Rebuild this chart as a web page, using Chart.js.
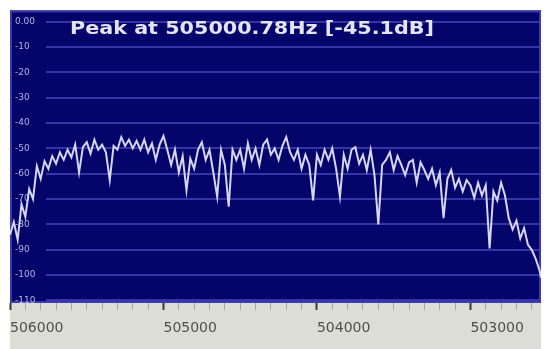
<!DOCTYPE html>
<html>
<head>
<meta charset="utf-8">
<script src="https://cdn.jsdelivr.net/npm/chart.js@4/dist/chart.umd.min.js"></script>
<style>
  html, body { margin: 0; padding: 0; background: #ffffff; }
  #wrap { position: absolute; left: 0; top: 0; width: 547px; height: 349px; }
</style>
</head>
<body>
<div id="wrap"><canvas id="spectrum" width="547" height="349"></canvas></div>
<script>
// Spectrum trace (Hz, dB)
const freqs = [
  506000, 505975, 505950, 505925, 505900, 505875, 505850, 505825, 505800, 505775,
  505750, 505725, 505700, 505675, 505650, 505625, 505600, 505575, 505550, 505525,
  505500, 505475, 505450, 505425, 505400, 505375, 505350, 505325, 505300, 505275,
  505250, 505225, 505200, 505175, 505150, 505125, 505100, 505075, 505050, 505025,
  505000, 504975, 504950, 504925, 504900, 504875, 504850, 504825, 504800, 504775,
  504750, 504725, 504700, 504675, 504650, 504625, 504600, 504575, 504550, 504525,
  504500, 504475, 504450, 504425, 504400, 504375, 504350, 504325, 504300, 504275,
  504250, 504225, 504200, 504175, 504150, 504125, 504100, 504075, 504050, 504025,
  504000, 503975, 503950, 503925, 503900, 503875, 503850, 503825, 503800, 503775,
  503750, 503725, 503700, 503675, 503650, 503625, 503600, 503575, 503550, 503525,
  503500, 503475, 503450, 503425, 503400, 503375, 503350, 503325, 503300, 503275,
  503250, 503225, 503200, 503175, 503150, 503125, 503100, 503075, 503050, 503025,
  503000, 502975, 502950, 502925, 502900, 502875, 502850, 502825, 502800, 502775,
  502750, 502725, 502700, 502675, 502650, 502625, 502600, 502575, 502550, 502540
];
const levels = [
  -84, -79, -86, -72, -77, -66, -70, -57, -62, -55,
  -58, -53, -56, -51.5, -54.5, -50.5, -53.5, -48.5, -59.5, -49.5,
  -47.5, -52, -46.5, -50.5, -48.5, -51.5, -62.5, -49, -50.5, -45.5,
  -49, -46.5, -50, -47, -50.5, -46.5, -51.5, -48, -54.5, -48.5,
  -45.1, -50.5, -56.5, -50.5, -59.5, -53, -66.5, -54, -58, -50.5,
  -47.5, -54.5, -50.5, -59.5, -69, -50.5, -56.5, -73, -50.5, -54.5,
  -50.5, -58, -48, -54.5, -50, -56.5, -48.5, -46.5, -52.5, -50,
  -54.5, -49, -45.5, -51.5, -54.5, -50.5, -58, -52.5, -56.5, -70.5,
  -52.5, -56.5, -50.5, -54.5, -50, -58, -69, -52.5, -58, -50.5,
  -49.5, -56, -52.5, -58.5, -50.5, -60.5, -80, -56.5, -54.5, -51.5,
  -58.5, -53, -56.5, -60.5, -55.5, -54.5, -63.5, -55.5, -58.5, -62,
  -58, -64.5, -59.5, -77.5, -62, -58.5, -65.5, -62, -67, -62.5,
  -64.5, -69.5, -63.5, -68.5, -64.5, -89.5, -67, -70.5, -63.5, -68.5,
  -77.5, -82, -78.5, -85.5, -81.5, -88, -90, -93.5, -98, -101
];

const peakText = "Peak at 505000.78Hz [-45.1dB]";
const freqMin = 502540;
const freqMax = 506000;
const dbMin = -111;
const dbMax = 4.5;

const NAVY = "#04046a";
const GRID = "#3434a6";
const TRACE = "#d6d6f4";
const PANEL = "#dcddd6";

// Background, panel and grid lines (grid starts right of the level labels)
const scopePlugin = {
  id: "scope",
  beforeDraw(chart) {
    const { ctx, chartArea: a } = chart;
    ctx.save();
    ctx.fillStyle = NAVY;
    ctx.fillRect(a.left, a.top, a.right - a.left, a.bottom - a.top);
    ctx.fillStyle = PANEL;
    ctx.fillRect(a.left, a.bottom, a.right - a.left, chart.height - a.bottom);
    ctx.strokeStyle = "#3c3cae";
    ctx.lineWidth = 2;
    ctx.strokeRect(a.left + 1, a.top + 1, a.right - a.left - 2, a.bottom - a.top - 2);
    ctx.restore();
  },
  beforeDatasetsDraw(chart) {
    const { ctx, chartArea: a, scales } = chart;
    const y = scales.y;
    ctx.save();
    ctx.strokeStyle = GRID;
    ctx.lineWidth = 2;
    y.ticks.forEach((t) => {
      const py = Math.round(y.getPixelForValue(t.value));
      ctx.beginPath();
      ctx.moveTo(a.left + 36, py);
      ctx.lineTo(a.right - 2, py);
      ctx.stroke();
    });
    ctx.restore();
  },
  afterDraw(chart) {
    const { ctx, chartArea: a } = chart;
    ctx.save();
    ctx.font = "bold 17px 'DejaVu Sans'";
    ctx.fillStyle = "#e4e4f4";
    ctx.textBaseline = "middle";
    const w = ctx.measureText(peakText).width;
    ctx.translate(a.left + 60, a.top + 19);
    ctx.scale(364 / w, 1);
    ctx.fillText(peakText, 0, 0);
    ctx.restore();
  },
};

new Chart(document.getElementById("spectrum"), {
  type: "line",
  data: {
    datasets: [
      {
        label: "Level",
        data: freqs.map((f, i) => ({ x: f, y: levels[i] })),
        borderColor: TRACE,
        borderWidth: 2,
        pointRadius: 0,
        tension: 0,
        fill: false,
      },
    ],
  },
  options: {
    responsive: false,
    animation: false,
    devicePixelRatio: 1,
    layout: { padding: { left: 8, right: 6, top: 10, bottom: 0 } },
    plugins: { legend: { display: false }, tooltip: { enabled: false } },
    scales: {
      x: {
        type: "linear",
        reverse: true,
        min: freqMin,
        max: freqMax,
        afterFit: (s) => { s.height = 46; },
        border: { display: false },
        grid: {
          drawOnChartArea: false,
          tickLength: 7,
          tickColor: (c) => (c.tick && c.tick.value % 1000 === 0 ? "#3a3a3a" : "#a8a8a4"),
          tickWidth: (c) => (c.tick && c.tick.value % 1000 === 0 ? 2 : 1),
        },
        ticks: {
          stepSize: 100,
          autoSkip: false,
          includeBounds: false,
          maxRotation: 0,
          align: "start",
          padding: 10,
          color: "#50504c",
          font: { family: "'DejaVu Sans'", size: 14 },
          callback: (v) => (v % 1000 === 0 ? String(v) : ""),
        },
      },
      y: {
        type: "linear",
        position: "left",
        min: dbMin,
        max: dbMax,
        afterFit: (s) => { s.width = 0; },
        border: { display: false },
        grid: { display: false, drawTicks: false },
        ticks: {
          stepSize: 10,
          includeBounds: false,
          mirror: true,
          padding: 5,
          color: "#b4b4e6",
          font: { family: "'DejaVu Sans'", size: 9 },
          callback: (v) => (v === 0 ? "0.00" : String(v)),
        },
      },
    },
  },
  plugins: [scopePlugin],
});
</script>
</body>
</html>
